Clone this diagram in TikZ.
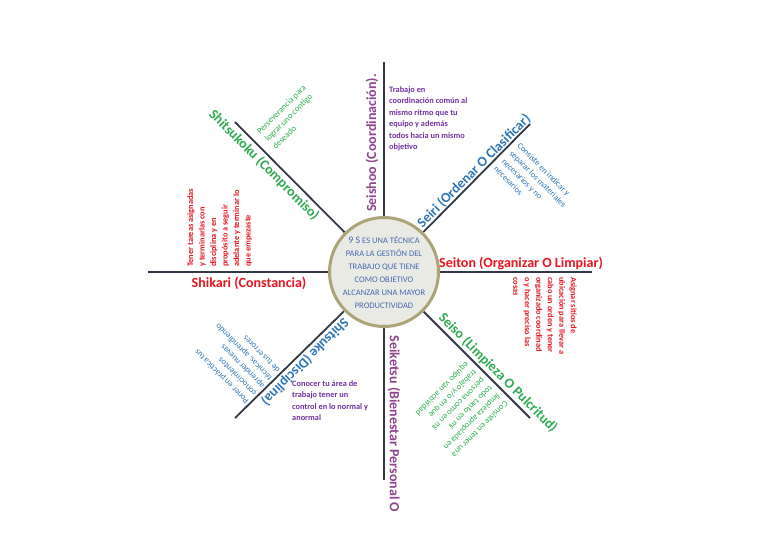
\documentclass[tikz,border=0pt]{standalone}
\usepackage{fontspec}
\setmainfont{Carlito}
\usetikzlibrary{positioning,calc,backgrounds}
\definecolor{linegray}{RGB}{50,56,70}
\definecolor{hubfill}{RGB}{234,234,228}
\definecolor{hubedge}{RGB}{170,164,120}
\definecolor{hubtext}{RGB}{68,104,180}
\definecolor{purpleL}{RGB}{142,68,140}
\definecolor{purpleD}{RGB}{112,48,160}
\definecolor{blueL}{RGB}{46,117,182}
\definecolor{redL}{RGB}{232,20,30}
\definecolor{greenL}{RGB}{46,170,80}
\begin{document}
\begin{tikzpicture}[
  x=1pt,y=-1pt,
  branch/.style={draw=linegray,line width=1.8pt},
  hub/.style={circle,draw=hubedge,line width=3pt,fill=hubfill,minimum size=96pt,inner sep=0pt,align=center,text=hubtext,font=\fontsize{8.5}{13}\selectfont},
  lbl/.style={font=\fontsize{14}{16}\selectfont\bfseries,inner sep=0pt},
  desc/.style={font=\fontsize{8.5}{11}\selectfont,align=left,inner sep=0pt},
  descb/.style={desc,font=\fontsize{8.3}{11.5}\selectfont\bfseries}
]
\useasboundingbox (0,0) rectangle (768,544);
\node[hub] (hub) at (384,272) {{\fontsize{10}{13}\selectfont 9 S} ES UNA TÉCNICA\\PARA LA GESTIÓN DEL\\TRABAJO QUE TIENE\\COMO OBJETIVO\\ALCANZAR UNA MAYOR\\PRODUCTIVIDAD};
\coordinate (eN) at (384,62);
\coordinate (eNE) at (530,124);
\coordinate (eE) at (592,272);
\coordinate (eSE) at (530,418);
\coordinate (eS) at (384,480);
\coordinate (eSW) at (235,418);
\coordinate (eW) at (148,272);
\coordinate (eNW) at (235,122);
\begin{scope}[on background layer]
\foreach \e in {eN,eNE,eE,eSE,eS,eSW,eW,eNW}
  \draw[branch] (hub) -- (\e);
\end{scope}
\node[lbl,text=purpleL,rotate=90] (lN) at (372,143) {Seishoo (Coordinación).};
\node[lbl,text=blueL,rotate=45] (lNE) at (474,171) {Seiri (Ordenar O Clasificar)};
\node[lbl,text=redL] (lE) at (521,263) {Seiton (Organizar O Limpiar)};
\node[lbl,text=greenL,rotate=-45] (lSE) at (498,373) {Seiso (Limpieza O Pulcritud)};
\node[lbl,text=purpleL,rotate=-90] (lS) at (394,424) {Seiketsu (Bienestar Personal O};
\node[lbl,text=blueL,rotate=225] (lSW) at (305,362) {Shitsuke (Disciplina)};
\node[lbl,text=redL] (lW) at (249,283) {Shikari (Constancia)};
\node[lbl,text=greenL,rotate=-45] (lNW) at (264,165) {Shitsukoku (Compromiso)};
\node[descb,text=purpleD,anchor=north west] (dN) at (389,86) {Trabajo en\\coordinación común al\\mismo ritmo que tu\\equipo y además\\todos hacia un mismo\\objetivo};
\node[desc,text=blueL,rotate=-45,anchor=north west] (dNE) at (521,142) {Consiste en indicar y\\separar los materiales\\necesarios y no\\necesarios};
\node[descb,text=redL,rotate=-90,anchor=north west] (dE) at (577,277) {Asignar sitios de\\ubicación para llevar a\\cabo un orden y tener\\organizado coordinad\\o y hacer preciso las\\cosas};
\node[desc,text=greenL,rotate=225,anchor=north west] (dSE) at (509,405) {Consiste en tener una\\limpieza apropiada en\\todo tanto en mi\\persona como en mi\\trabajo y/o en que\\equipo van actividad};
\node[descb,text=purpleD,anchor=north west] (dS) at (292,380) {Conocer tu área de\\trabajo tener un\\control en lo normal y\\anormal};
\node[desc,text=blueL,rotate=135,anchor=north west] (dSW) at (245,405) {Poner en práctica tus\\conocimientos\\aprender nuevas\\técnicas, aprendiendo\\de tus errores};
\node[descb,text=redL,rotate=90,anchor=north west] (dW) at (187,267) {Tener tareas asignadas\\y terminarlas con\\disciplina y en\\propósito a seguir\\adelante y terminar lo\\que empezaste};
\node[desc,text=greenL,rotate=45,anchor=north west] (dNW) at (256,130) {Perseverancia para\\lograr uno contigo\\deseado};
\end{tikzpicture}
\end{document}
